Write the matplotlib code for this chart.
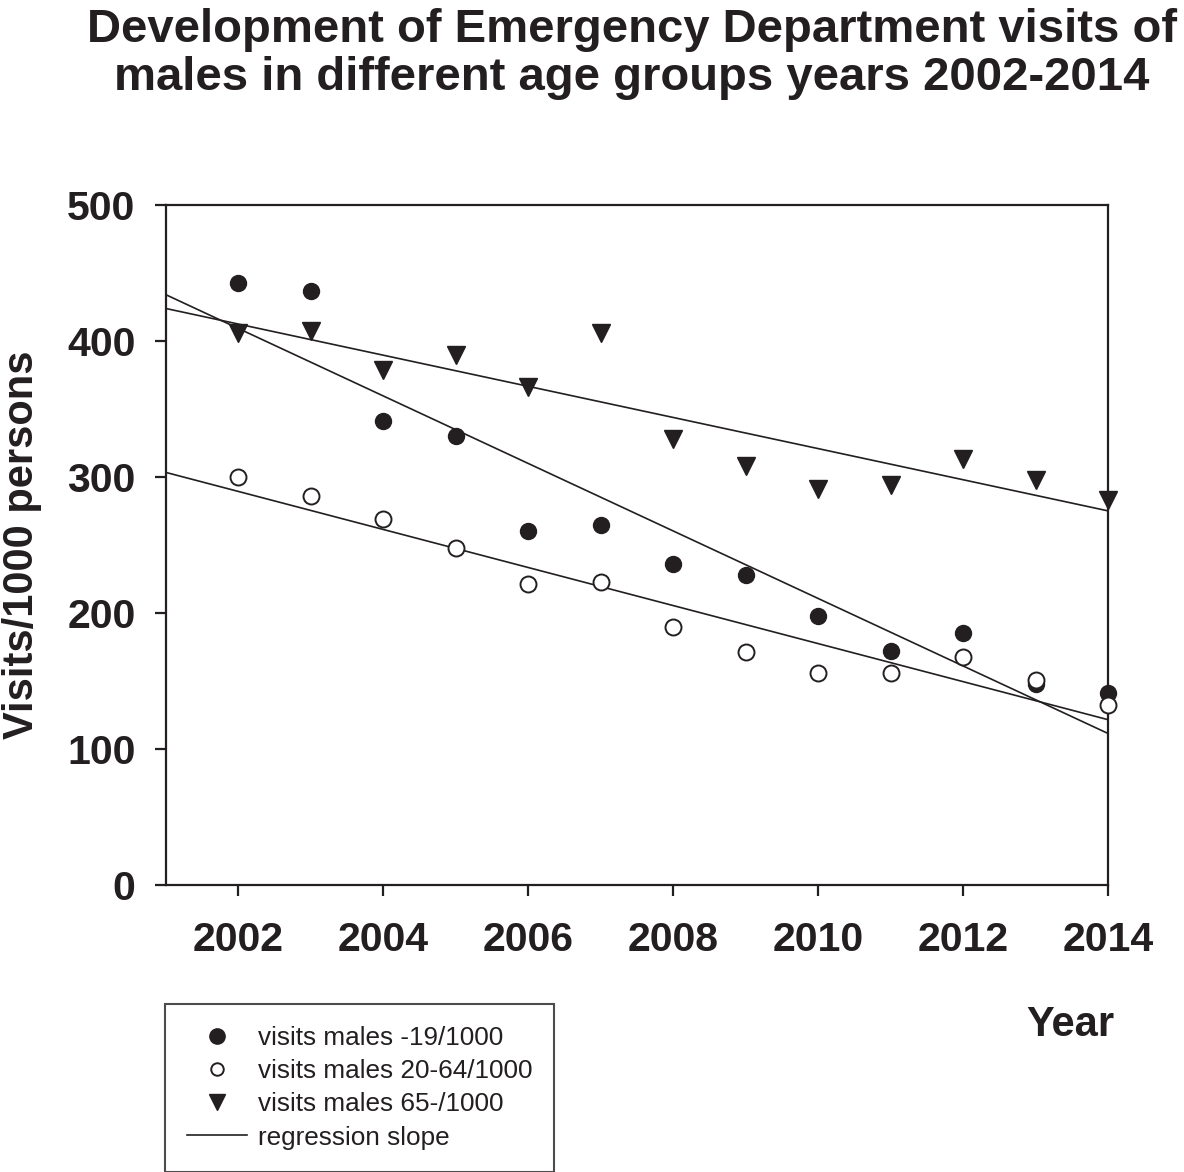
import matplotlib
matplotlib.use('Agg')
import numpy as np
import matplotlib.pyplot as plt
from matplotlib.lines import Line2D

plt.rcParams['font.family'] = ['Liberation Sans', 'DejaVu Sans']

years = np.arange(2002, 2015)
young = [443, 437, 341, 330, 260, 265, 236, 228, 198, 172, 185, 148, 141]   # -19
adult = [300, 286, 269, 248, 221, 223, 190, 171, 156, 156, 168, 151, 132]   # 20-64
old = [406, 407, 379, 390, 366, 406, 328, 308, 291, 294, 313, 298, 283]     # 65-
labels = ['visits males -19/1000', 'visits males 20-64/1000', 'visits males 65-/1000', 'regression slope']

ink = '#231f20'

fig = plt.figure(figsize=(11.84, 11.72), dpi=100)
ax = fig.add_axes([166/1184, 1 - 885/1172, (1108-166)/1184, (885-205)/1172])

# regression lines, drawn from 2001 to 2014
xr = np.array([2001, 2014])
for s in (young, adult, old):
    k, b = np.polyfit(years, s, 1)
    ax.plot(xr, k*xr + b, color=ink, lw=1.2, zorder=2)

ax.plot(years, young, 'o', ms=11.5, color=ink, zorder=3, clip_on=False)
ax.plot(years, adult, 'o', ms=11.5, mfc='white', mec=ink, mew=1.4, zorder=4, clip_on=False)
ax.plot(years, old, 'v', ms=13, color=ink, zorder=3, clip_on=False)

ax.set_xlim(2001, 2014)
ax.set_ylim(0, 500)
ax.set_xticks(range(2002, 2015, 2))
ax.set_yticks(range(0, 501, 100))
for sp in ax.spines.values():
    sp.set_linewidth(1.6)
    sp.set_color(ink)
ax.tick_params(direction='out', length=8, width=1.6, color=ink, labelcolor=ink)
ax.tick_params(axis='x', pad=18)
ax.tick_params(axis='y', pad=14)
for t in ax.get_xticklabels() + ax.get_yticklabels():
    t.set_fontsize(29.5)
    t.set_fontweight('bold')

ax.set_ylabel('Visits/1000 persons', fontsize=30, fontweight='bold', color=ink, labelpad=18)
fig.text(1070/1184, 1 - 1025/1172, 'Year', fontsize=30, fontweight='bold', color=ink,
         ha='center', va='center')

fig.text(632/1184, 1 - 54/1172, 'Development of Emergency Department visits of\nmales in different age groups years 2002-2014',
         fontsize=34, fontweight='bold', color=ink, ha='center', va='center', linespacing=1.12)

handles = [
    Line2D([], [], ls='none', marker='o', ms=11, color=ink),
    Line2D([], [], ls='none', marker='o', ms=9, mfc='white', mec=ink, mew=1.4),
    Line2D([], [], ls='none', marker='v', ms=12, color=ink),
    Line2D([], [], color=ink, lw=1.2),
]
leg = fig.legend(handles, labels, loc='upper left', bbox_to_anchor=(165/1184, 1 - 1004/1172),
                 fontsize=18.8, frameon=True, fancybox=False, edgecolor=ink, borderpad=0.85,
                 labelspacing=0.35, handlelength=2.3, handletextpad=0.4, borderaxespad=0)
leg.get_frame().set_linewidth(1.5)
for t in leg.get_texts():
    t.set_color(ink)

fig.savefig('out.png', dpi=100)
